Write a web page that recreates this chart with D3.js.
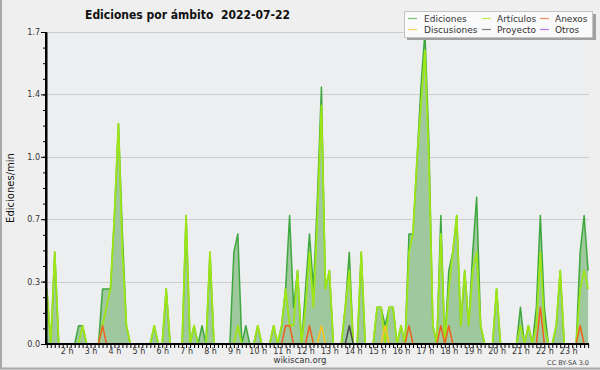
<!DOCTYPE html>
<html>
<head>
<meta charset="utf-8">
<script src="https://cdn.jsdelivr.net/npm/d3@7"></script>
<style>
  body { margin: 0; background: #efefef; }
  svg text { font-family: 'DejaVu Sans', sans-serif; }
</style>
</head>
<body>
<svg id="chart" width="600" height="370"></svg>
<script>
// edits per minute, one value per 10 minute slot
const ediciones = [
  0.3, 0, 0.5, 0, 0, 0, 0, 0, 0.1, 0.1,
  0, 0, 0, 0, 0.3, 0.3, 0.3, 0.7, 1.2, 0.6,
  0.1, 0, 0, 0, 0, 0, 0, 0.1, 0, 0,
  0.3, 0, 0, 0, 0, 0.7, 0, 0.1, 0, 0.1,
  0, 0.5, 0, 0, 0, 0, 0, 0.5, 0.6, 0,
  0.1, 0, 0, 0.1, 0, 0, 0, 0.1, 0, 0.1,
  0.3, 0.7, 0.2, 0.4, 0, 0.3, 0.6, 0.3, 0.8, 1.4,
  0.3, 0.4, 0, 0, 0, 0.2, 0.5, 0, 0, 0.5,
  0, 0, 0, 0.2, 0.2, 0.1, 0.2, 0.2, 0, 0.1,
  0, 0.6, 0.6, 1.0, 1.4, 1.7, 1.1, 0.1, 0, 0.7,
  0, 0.4, 0.5, 0.7, 0.1, 0.4, 0.1, 0.5, 0.8, 0.1,
  0, 0, 0, 0.3, 0, 0, 0, 0, 0, 0.2,
  0, 0.1, 0, 0.2, 0.7, 0.2, 0, 0, 0.1, 0.4,
  0, 0, 0, 0, 0.5, 0.7, 0.4
];
const articulos = [
  0.3, 0, 0.5, 0, 0, 0, 0, 0, 0, 0.1,
  0, 0, 0, 0, 0.1, 0.2, 0.3, 0.7, 1.2, 0.5,
  0.1, 0, 0, 0, 0, 0, 0, 0.1, 0, 0,
  0.3, 0, 0, 0, 0, 0.7, 0, 0.1, 0, 0,
  0, 0.5, 0, 0, 0, 0, 0, 0, 0.1, 0,
  0, 0, 0, 0.1, 0, 0, 0, 0.1, 0, 0.1,
  0.3, 0.1, 0.1, 0.4, 0, 0.2, 0.5, 0.2, 0.7, 1.3,
  0.3, 0.4, 0, 0, 0, 0.2, 0.4, 0, 0, 0.5,
  0, 0, 0, 0.2, 0.2, 0, 0.2, 0.2, 0, 0.1,
  0, 0.5, 0.6, 1.0, 1.3, 1.6, 1.0, 0.1, 0, 0.6,
  0, 0.3, 0.5, 0.7, 0.1, 0.4, 0.1, 0.4, 0.5, 0.1,
  0, 0, 0, 0.3, 0, 0, 0, 0, 0, 0.1,
  0, 0.1, 0, 0.1, 0.5, 0.1, 0, 0, 0.1, 0.4,
  0, 0, 0, 0, 0.3, 0.4, 0.3
];
// the small namespaces are mostly empty: [slot, value] pairs
const anexos = [[14, 0.1], [60, 0.1], [61, 0.1], [66, 0.1], [91, 0.1], [99, 0.1], [101, 0.1], [124, 0.2], [134, 0.1]];
const discusiones = [[69, 0.1], [85, 0.1]];
const proyecto = [[76, 0.1]];
const otros = [];

const hourLabels = ['2 h', '3 h', '4 h', '5 h', '6 h', '7 h', '8 h', '9 h', '10 h', '11 h', '12 h',
  '13 h', '14 h', '15 h', '16 h', '17 h', '18 h', '19 h', '20 h', '21 h', '22 h', '23 h'];
const firstHourSlot = 5, slotsPerHour = 6;

const yMax = 1.7, yDivisions = 5, yMinorPerDivision = 4;

// expand a sparse list into a full series of the same length as the total
function expand(pairs) {
  let out = ediciones.map(() => 0);
  pairs.forEach(p => { out[p[0]] = p[1]; });
  return out;
}

const series = [
  { name: 'Ediciones', color: '#3ea83e', width: 1.5, values: ediciones },
  { name: 'Artículos', color: '#9ee616', width: 1.8, values: articulos },
  { name: 'Anexos', color: '#f0601e', width: 1.5, values: expand(anexos) },
  { name: 'Discusiones', color: '#ffc21e', width: 1.5, values: expand(discusiones) },
  { name: 'Proyecto', color: '#4a4a4a', width: 1.5, values: expand(proyecto) },
  { name: 'Otros', color: '#9a3ef0', width: 1.5, values: expand(otros) }
];

const svg = d3.select('#chart');
const plotLeft = 46, plotRight = 589, plotTop = 32, plotBottom = 344;

// background and the frame edges
svg.append('rect').attr('width', 600).attr('height', 370).attr('fill', '#efefef');
svg.append('path').attr('d', 'M1,0 V368.5 H600').attr('fill', 'none')
  .attr('stroke', '#a8a8a8').attr('stroke-width', 2);

svg.append('rect')
  .attr('x', plotLeft).attr('y', plotTop)
  .attr('width', plotRight - plotLeft).attr('height', plotBottom - plotTop)
  .attr('fill', '#eceef0');

let x = d3.scaleLinear().domain([0, ediciones.length - 1]).range([46.8, 588.1]);
let y = d3.scaleLinear().domain([0, yMax]).range([plotBottom, plotTop]);

let majors = d3.range(yDivisions + 1).map(k => k * yMax / yDivisions);
let minors = d3.range(yDivisions * yMinorPerDivision + 1).map(k => k * yMax / (yDivisions * yMinorPerDivision));

// horizontal grid
svg.append('g').selectAll('line')
  .data(majors.slice(1))
  .join('line')
  .attr('x1', plotLeft).attr('x2', plotRight)
  .attr('y1', d => Math.round(y(d)) + 0.5).attr('y2', d => Math.round(y(d)) + 0.5)
  .attr('stroke', '#cdcdcd');

svg.append('clipPath').attr('id', 'plotclip')
  .append('rect').attr('x', plotLeft).attr('y', plotTop - 2)
  .attr('width', plotRight - plotLeft).attr('height', plotBottom - plotTop + 2);

let marks = svg.append('g').attr('clip-path', 'url(#plotclip)');

// total edits as a filled area
marks.append('path')
  .datum(ediciones)
  .attr('d', d3.area().x((d, i) => x(i)).y0(y(0)).y1(d => y(d)))
  .attr('fill', '#9fc89f');

let line = d3.line().x((d, i) => x(i)).y(d => y(d));
marks.selectAll('path.series')
  .data(series)
  .join('path')
  .attr('class', 'series')
  .attr('d', d => line(d.values))
  .attr('fill', 'none')
  .attr('stroke', d => d.color)
  .attr('stroke-width', d => d.width)
  .attr('stroke-linejoin', 'round');

// y axis, major ticks with labels and minor ticks
let yAxis = svg.append('g').attr('transform', `translate(${plotLeft},0)`)
  .call(d3.axisLeft(y).tickValues(majors).tickFormat(d3.format('.1f')).tickSize(5).tickSizeOuter(0).tickPadding(1));
svg.append('g').attr('transform', `translate(${plotLeft},0)`)
  .call(d3.axisLeft(y).tickValues(minors).tickFormat('').tickSize(3).tickSizeOuter(0));

// x axis, one tick per slot, labels on the hours
let hourAt = new Map(hourLabels.map((l, k) => [firstHourSlot + k * slotsPerHour, l]));
let xAxis = svg.append('g').attr('transform', `translate(0,${plotBottom})`)
  .call(d3.axisBottom(x).tickValues(d3.range(ediciones.length))
    .tickFormat(i => hourAt.get(i) || '').tickSize(4).tickSizeOuter(0).tickPadding(0));

svg.selectAll('.domain').attr('stroke', '#000').attr('stroke-width', 2);
svg.selectAll('.tick line').attr('stroke', '#000');
svg.selectAll('.tick text').attr('font-size', 8).attr('fill', '#333')
  .attr('font-family', "'DejaVu Sans', sans-serif");
// keep the full axis lines across the plot
yAxis.select('.domain').attr('d', `M0,${plotTop}V${plotBottom + 1}`);
xAxis.select('.domain').attr('d', `M${plotLeft - 1},0H${plotRight}`);

// titles
svg.append('text')
  .attr('x', 85).attr('y', 19)
  .attr('xml:space', 'preserve')
  .style('white-space', 'pre')
  .attr('font-weight', 'bold').attr('font-size', 12.5)
  .style('font-stretch', 'condensed')
  .attr('font-family', "'DejaVu Sans Condensed', 'DejaVu Sans', sans-serif")
  .attr('textLength', 205).attr('lengthAdjust', 'spacingAndGlyphs')
  .attr('fill', '#111')
  .text('Ediciones por ámbito  2022-07-22');

svg.append('text')
  .attr('transform', 'translate(13.5,188) rotate(-90)')
  .attr('text-anchor', 'middle')
  .attr('font-family', "'DejaVu Sans Mono', monospace")
  .attr('font-size', 10).attr('fill', '#111')
  .text('Ediciones/min');

svg.append('text')
  .attr('x', 300).attr('y', 363).attr('text-anchor', 'middle')
  .attr('font-size', 8.5).attr('fill', '#333')
  .text('wikiscan.org');

svg.append('text')
  .attr('x', 589).attr('y', 365).attr('text-anchor', 'end')
  .attr('font-size', 6.5).attr('fill', '#444')
  .text('CC BY-SA 3.0');

// legend box with its shadow
let legend = svg.append('g');
legend.append('rect').attr('x', 407).attr('y', 14).attr('width', 189).attr('height', 26).attr('fill', '#a0a0a0');
legend.append('rect').attr('x', 404.5).attr('y', 11.5).attr('width', 188).attr('height', 26)
  .attr('fill', '#fafafa').attr('stroke', '#c4c4c4');

const legendCols = [408, 482, 540], legendRows = [18.5, 29.5];
let item = legend.selectAll('g.item')
  .data(series)
  .join('g')
  .attr('class', 'item')
  .attr('transform', (d, i) => `translate(${legendCols[i % 3]},${legendRows[Math.floor(i / 3)]})`);
item.append('line')
  .attr('x1', 0).attr('x2', 9)
  .attr('stroke', d => d.color).attr('stroke-opacity', 0.7).attr('stroke-width', 1.2);
item.append('text')
  .attr('x', (d, i) => i % 3 === 0 ? 16 : 15)
  .attr('y', 3.3)
  .attr('font-size', 9).attr('fill', '#333')
  .text(d => d.name);
</script>
</body>
</html>
